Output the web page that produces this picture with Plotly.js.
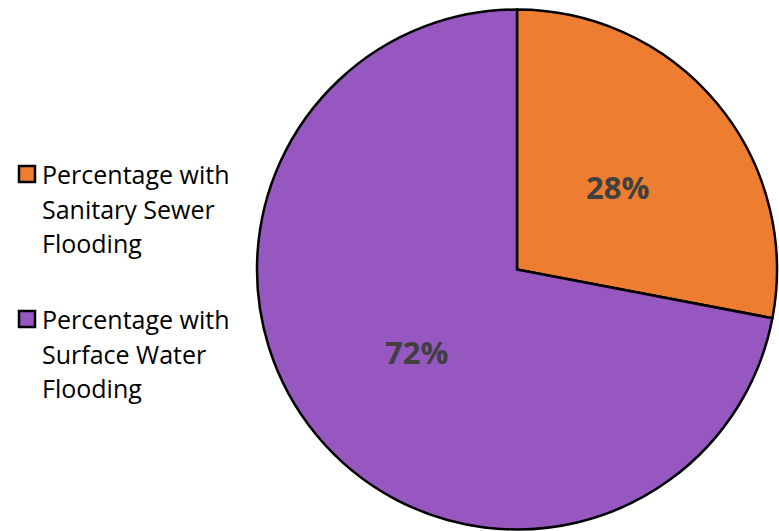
<!DOCTYPE html>
<html><head><meta charset="utf-8">
<script src="https://cdn.plot.ly/plotly-3.0.1.min.js"></script>
<style>html,body{margin:0;padding:0;background:#fff}#chart{width:779px;height:531px}</style>
</head><body><div id="chart"></div>
<script>
const categories = ["Percentage with Sanitary Sewer Flooding", "Percentage with Surface Water Flooding"];
const legendLines = [["Percentage with", "Sanitary Sewer", "Flooding"], ["Percentage with", "Surface Water", "Flooding"]];
const values = [28, 72];
const colors = ["#ED7D31", "#9657C0"];

const W = 779, H = 531;
const cx = 517, cy = 269.5, R = 260;

const trace = {
  type: "pie",
  labels: categories,
  values: values,
  sort: false,
  direction: "clockwise",
  rotation: 0,
  marker: {colors: colors, line: {color: "#000000", width: 2.5}},
  textinfo: "none",
  domain: {x: [(cx - R) / W, (cx + R) / W], y: [(H - cy - R) / H, (H - cy + R) / H]},
  hoverinfo: "none",
  showlegend: false
};

const annotations = [];
const shapes = [];
const total = values.reduce((a, b) => a + b, 0);
let cum = 0;
values.forEach((v, i) => {
  const mid = (cum + v / 2) / total * 2 * Math.PI;
  cum += v;
  const r = 0.5 * R;
  const px = cx + r * Math.sin(mid);
  const py = cy - r * Math.cos(mid);
  annotations.push({
    xref: "paper", yref: "paper", x: px / W, y: 1 - py / H,
    text: "<b>" + Math.round(v / total * 100) + "%</b>", showarrow: false,
    xanchor: "center", yanchor: "middle",
    font: {family: "'Open Sans', sans-serif", size: 31, color: "#404040"}
  });
});

// manual legend
const legTop = [174, 319];
const lineH = 34.5;
legendLines.forEach((lines, i) => {
  const y0 = legTop[i];
  shapes.push({
    type: "rect", xref: "paper", yref: "paper",
    x0: 19 / W, x1: 35 / W, y0: 1 - (y0 - 8) / H, y1: 1 - (y0 + 8) / H,
    fillcolor: colors[i], line: {color: "#000000", width: 2.5}
  });
  lines.forEach((t, j) => {
    annotations.push({
      xref: "paper", yref: "paper", x: 40 / W, y: 1 - (y0 + j * lineH) / H,
      text: t, showarrow: false, xanchor: "left", yanchor: "middle",
      font: {family: "'Open Sans', sans-serif", size: 25, color: "#000000"}
    });
  });
});

const layout = {
  width: W, height: H,
  margin: {l: 0, r: 0, t: 0, b: 0},
  paper_bgcolor: "#ffffff",
  showlegend: false,
  annotations: annotations,
  shapes: shapes
};

Plotly.newPlot("chart", [trace], layout, {displayModeBar: false, staticPlot: true});
</script>
</body></html>
